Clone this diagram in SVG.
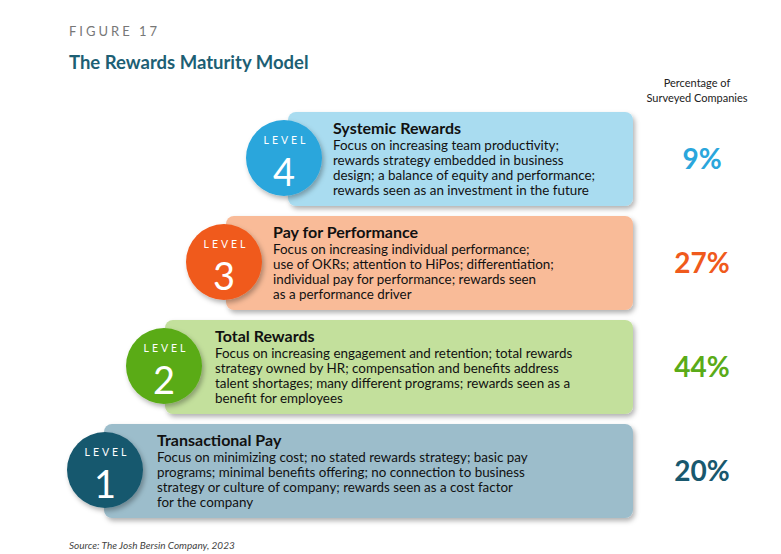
<svg xmlns="http://www.w3.org/2000/svg" width="781" height="554" viewBox="0 0 781 554">
<style>
.t{font-family:Lato,"Liberation Sans",sans-serif}
.h{font-size:16px;font-weight:bold;fill:#111}
.b{font-size:13.4px;fill:#111}
.lv{font-size:10.5px;fill:#fff;letter-spacing:3px;text-anchor:middle}
.n{font-size:38px;fill:#fff;text-anchor:middle}
.p{font-size:28px;font-weight:bold;text-anchor:middle}
</style>
<defs><filter id="s" x="-20%" y="-20%" width="150%" height="150%"><feDropShadow dx="2" dy="3" stdDeviation="2.5" flood-opacity="0.3"/></filter></defs>
<rect width="781" height="554" fill="#fff"/>
<text class="t" x="69" y="36" font-size="13" fill="#777" letter-spacing="3">FIGURE 17</text>
<text class="t" x="69" y="69" font-size="18.5" font-weight="bold" fill="#1d5f74">The Rewards Maturity Model</text>
<text class="t" x="697" y="87" font-size="11" fill="#222" text-anchor="middle">Percentage of</text>
<text class="t" x="697" y="102" font-size="11" fill="#222" text-anchor="middle">Surveyed Companies</text>
<g id="level4">
<rect x="288" y="112" width="345" height="94" rx="8" fill="#a9dcf0" filter="url(#s)"/>
<circle cx="284" cy="158" r="38" fill="#2aa6dc" filter="url(#s)"/>
<text class="t lv" x="286" y="144">LEVEL</text><text class="t n" x="284" y="186">4</text>
<text class="t h" x="333" y="134">Systemic Rewards</text>
<text class="t b"><tspan x="333" y="150">Focus on  increasing team productivity;</tspan><tspan x="333" y="165">rewards strategy embedded in business</tspan><tspan x="333" y="180">design; a balance of equity and performance;</tspan><tspan x="333" y="195">rewards seen as an investment in the future</tspan></text>
<text class="t p" x="702" y="169" fill="#2aa6dc">9%</text>
</g>
<g id="level3">
<rect x="226" y="216" width="407" height="94" rx="8" fill="#f9bb98" filter="url(#s)"/>
<circle cx="224" cy="262" r="38" fill="#f05a1c" filter="url(#s)"/>
<text class="t lv" x="226" y="248">LEVEL</text><text class="t n" x="224" y="290">3</text>
<text class="t h" x="273" y="238">Pay for Performance</text>
<text class="t b"><tspan x="273" y="254">Focus on increasing individual performance;</tspan><tspan x="273" y="269">use of OKRs; attention to HiPos; differentiation;</tspan><tspan x="273" y="284">individual pay for performance; rewards seen</tspan><tspan x="273" y="299">as a performance driver</tspan></text>
<text class="t p" x="702" y="273" fill="#f05a1c">27%</text>
</g>
<g id="level2">
<rect x="165" y="320" width="468" height="94" rx="8" fill="#c3e09c" filter="url(#s)"/>
<circle cx="164" cy="366" r="38" fill="#5aab18" filter="url(#s)"/>
<text class="t lv" x="166" y="352">LEVEL</text><text class="t n" x="164" y="394">2</text>
<text class="t h" x="215" y="342">Total Rewards</text>
<text class="t b"><tspan x="215" y="358">Focus on increasing engagement and retention; total rewards</tspan><tspan x="215" y="373">strategy owned by HR; compensation and benefits address</tspan><tspan x="215" y="388">talent shortages; many different programs; rewards seen as a</tspan><tspan x="215" y="403">benefit for employees</tspan></text>
<text class="t p" x="702" y="377" fill="#5aab18">44%</text>
</g>
<g id="level1">
<rect x="104" y="424" width="529" height="94" rx="8" fill="#9cbdcb" filter="url(#s)"/>
<circle cx="105" cy="470" r="38" fill="#19586e" filter="url(#s)"/>
<text class="t lv" x="107" y="456">LEVEL</text><text class="t n" x="105" y="498">1</text>
<text class="t h" x="157" y="446">Transactional Pay</text>
<text class="t b"><tspan x="157" y="462">Focus on minimizing cost; no stated rewards strategy; basic pay</tspan><tspan x="157" y="477">programs; minimal benefits offering; no connection to business</tspan><tspan x="157" y="492">strategy or culture of company; rewards seen as a cost factor</tspan><tspan x="157" y="507">for the company</tspan></text>
<text class="t p" x="702" y="481" fill="#19586e">20%</text>
</g>
<text class="t" x="69" y="549" font-size="10" font-style="italic" fill="#444">Source: The Josh Bersin Company, 2023</text>
</svg>
